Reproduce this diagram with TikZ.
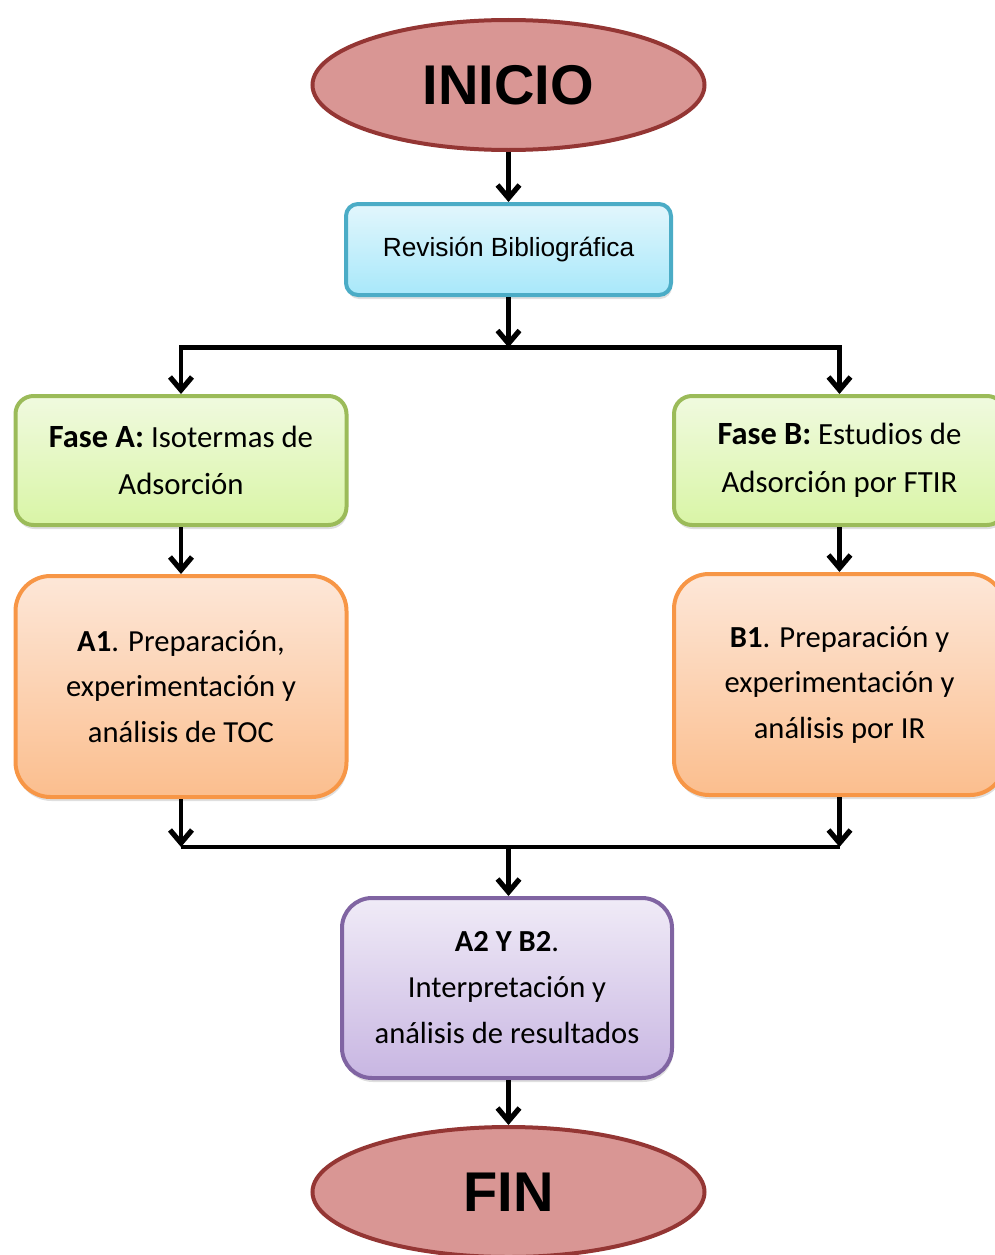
\documentclass[tikz,border=0pt]{standalone}
\usepackage{fontspec}
\setmainfont{Carlito}
\newfontfamily\arialf{Liberation Sans}
\usetikzlibrary{arrows.meta,shapes.geometric,shadows}
\definecolor{elfill}{HTML}{D99694}
\definecolor{eldraw}{HTML}{943634}
\definecolor{bluetop}{HTML}{E2F6FC}
\definecolor{bluebot}{HTML}{A8E8FA}
\definecolor{bluedraw}{HTML}{4BACC6}
\definecolor{greentop}{HTML}{F0FADF}
\definecolor{greenbot}{HTML}{D9F5A6}
\definecolor{greendraw}{HTML}{9BBB59}
\definecolor{orangetop}{HTML}{FDE7D8}
\definecolor{orangebot}{HTML}{FBBE8E}
\definecolor{orangedraw}{HTML}{F79646}
\definecolor{purpletop}{HTML}{F0EBF7}
\definecolor{purplebot}{HTML}{C8B6E2}
\definecolor{purpledraw}{HTML}{8064A2}
\tikzset{
  ell/.style={ellipse, draw=eldraw, fill=elfill, line width=4pt, minimum width=392pt, minimum height=130pt, inner sep=0pt, font=\arialf\bfseries\fontsize{56}{60}\selectfont},
  boxbase/.style={rectangle, line width=4pt, inner sep=0pt, align=center,
    drop shadow={opacity=0.25, shadow xshift=1pt, shadow yshift=-4pt}},
  bluebox/.style={boxbase, draw=bluedraw, top color=bluetop, bottom color=bluebot, rounded corners=12pt, font=\arialf\fontsize{26.3}{30}\selectfont},
  greenbox/.style={boxbase, draw=greendraw, top color=greentop, bottom color=greenbot, rounded corners=18pt, font=\fontsize{30.8}{47.5}\selectfont},
  orangebox/.style={boxbase, draw=orangedraw, top color=orangetop, bottom color=orangebot, rounded corners=35pt, font=\fontsize{30.6}{45.5}\selectfont},
  purplebox/.style={boxbase, draw=purpledraw, top color=purpletop, bottom color=purplebot, rounded corners=30pt, font=\fontsize{30.6}{46}\selectfont},
  conn/.style={line width=4.5pt, black},
  arr/.style={conn, -{Straight Barb[length=13pt, width=22pt, line width=0pt 1.15]}}
}
\begin{document}
\begin{tikzpicture}[x=1pt, y=-1pt]
\useasboundingbox (0,0) rectangle (995,1255);
\node[ell] (inicio) at (508.5,85) {INICIO};
\node[bluebox, minimum width=325pt, minimum height=91pt] (rev) at (508.5,249.5) {Revisión Bibliográfica};
\node[greenbox, minimum width=331pt, minimum height=129pt] (faseA) at (181,460.5) {{\fontsize{32.4}{47.5}\selectfont\textbf{Fase A:}} Isotermas de\\Adsorción};
\node[greenbox, minimum width=331pt, minimum height=129pt] (faseB) at (839.5,460.5) {{\fontsize{32.4}{47.5}\selectfont\textbf{Fase B:}} Estudios de\\Adsorción por FTIR};
\node[orangebox, minimum width=331pt, minimum height=221pt] (a1) at (181,686.5) {\textbf{A1}. Preparación,\\experimentación y\\análisis de TOC};
\node[orangebox, minimum width=331pt, minimum height=221pt] (b1) at (839.5,684.5) {\textbf{B1}. Preparación y\\experimentación y\\análisis por IR};
\node[purplebox, minimum width=330pt, minimum height=180pt] (a2) at (507,988) {\textbf{A2 Y B2}.\\Interpretación y\\análisis de resultados};
\node[ell] (fin) at (508.5,1192) {FIN};
\coordinate (jtop) at (508.5,347.5);
\coordinate (jbot) at (508.5,847);
\draw[arr] (inicio.south) -- (rev.north);
\draw[arr] (rev.south) -- (jtop);
\draw[arr] (jtop) -| (faseA.north);
\draw[arr] (jtop) -| (faseB.north);
\draw[arr] (faseA.south) -- (a1.north);
\draw[arr] (faseB.south) -- (b1.north);
\draw[arr] (a1.south) -- (a1.south |- jbot);
\draw[arr] (b1.south) -- (b1.south |- jbot);
\draw[conn] (a1.south |- jbot) -- (b1.south |- jbot);
\draw[arr] (jbot) -- (jbot |- a2.north);
\draw[arr] (a2.south -| fin.north) -- (fin.north);
\end{tikzpicture}
\end{document}
